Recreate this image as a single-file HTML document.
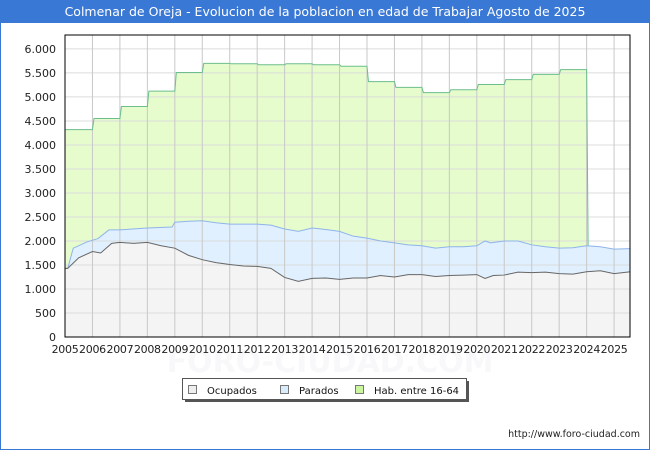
<!DOCTYPE html>
<html><head><meta charset="utf-8"><style>
body{margin:0;width:650px;height:450px;background:#fff;font-family:"DejaVu Sans","Liberation Sans",sans-serif;overflow:hidden;position:relative}
#title{position:absolute;left:0;top:0;width:650px;height:23px;background:#3a78d6;color:#fff;font-size:12.5px;line-height:23px;text-align:center}
#frame{position:absolute;left:0;top:23px;width:648px;height:426px;border:1px solid #3a78d6;border-top:none}
</style></head><body>
<div id="title">Colmenar de Oreja - Evolucion de la poblacion en edad de Trabajar Agosto de 2025</div>
<div id="frame"></div>
<svg id="chart" width="650" height="450" style="position:absolute;left:0;top:0"></svg>
<script>
const years=[2005,2006,2007,2008,2009,2010,2011,2012,2013,2014,2015,2016,2017,2018,2019,2020,2021,2022,2023,2024,2025];
const yTicks=[0,500,1000,1500,2000,2500,3000,3500,4000,4500,5000,5500,6000];
const yTickLabels=["0","500","1.000","1.500","2.000","2.500","3.000","3.500","4.000","4.500","5.000","5.500","6.000"];
const habYears=[2005,2006,2007,2008,2009,2010,2011,2012,2013,2014,2015,2016,2017,2018,2019,2020,2021,2022,2023];
const habValues=[4320,4550,4800,5120,5510,5700,5690,5670,5690,5670,5640,5320,5200,5090,5150,5260,5360,5470,5570];
const parT=[2005,2005.1,2005.3,2005.8,2006.2,2006.6,2007,2008,2008.9,2009,2009.5,2010,2010.5,2011,2012,2012.5,2013,2013.5,2014,2014.5,2015,2015.5,2016,2016.5,2017,2017.5,2018,2018.5,2019,2019.5,2020,2020.3,2020.5,2021,2021.5,2022,2022.5,2023,2023.5,2024,2024.5,2025,2025.6];
const parV=[1430,1430,1850,1980,2050,2230,2230,2270,2290,2390,2410,2420,2380,2350,2350,2330,2250,2200,2270,2240,2200,2100,2060,2000,1960,1920,1900,1850,1880,1880,1900,2000,1960,2000,2000,1920,1880,1850,1860,1900,1880,1830,1840];
const ocuT=[2005,2005.1,2005.5,2006,2006.3,2006.7,2007,2007.5,2008,2008.5,2009,2009.5,2010,2010.5,2011,2011.5,2012,2012.5,2013,2013.5,2014,2014.5,2015,2015.5,2016,2016.5,2017,2017.5,2018,2018.5,2019,2019.5,2020,2020.3,2020.6,2021,2021.5,2022,2022.5,2023,2023.5,2024,2024.5,2025,2025.6];
const ocuV=[1430,1430,1650,1780,1750,1950,1970,1950,1970,1900,1850,1700,1610,1550,1510,1480,1470,1430,1240,1160,1220,1230,1200,1230,1230,1280,1250,1300,1300,1260,1280,1290,1300,1220,1280,1290,1350,1340,1350,1320,1310,1360,1380,1320,1360];
const L=65,R=630,T=35,B=337,X0=2005,X1=2025.58,YMAX=6290;
const xs=t=>L+(t-X0)/(X1-X0)*(R-L);
const ys=v=>B-v/YMAX*(B-T);
const svg=document.getElementById('chart');const NS='http://www.w3.org/2000/svg';
function mk(tag,at,parent){const e=document.createElementNS(NS,tag);for(const k in at)e.setAttribute(k,at[k]);(parent||svg).appendChild(e);return e;}
let bg=mk('rect',{x:L,y:T,width:R-L,height:B-T,fill:'#fff'});


let wm=mk('text',{x:330,y:372,'text-anchor':'middle','font-size':30,fill:'#f8f8fb','font-weight':'bold'});wm.textContent='FORO-CIUDAD.COM';


let hp=[];habYears.forEach((y,i)=>{hp.push([xs(y)+(i?1.5:0),ys(habValues[i])]);hp.push([xs(y+1),ys(habValues[i])]);});
hp.push([xs(2024)+1.5,ys(parV[39])]);
let habArea='M'+xs(2005)+','+B+' '+hp.map(p=>'L'+p[0]+','+p[1]).join(' ')+' L'+(xs(2024)+1.5)+','+B+'Z';
let ha=mk('path',{d:habArea,fill:'#e6fccc'});


let parPts=parT.map((t,i)=>[xs(t),ys(parV[i])]);
let pa=mk('path',{d:'M'+xs(2005)+','+B+' '+parPts.map(p=>'L'+p[0]+','+p[1]).join(' ')+' L'+xs(parT[parT.length-1])+','+B+'Z',fill:'#e0f0fe'});


let ocuPts=ocuT.map((t,i)=>[xs(t),ys(ocuV[i])]);
let oa=mk('path',{d:'M'+xs(2005)+','+B+' '+ocuPts.map(p=>'L'+p[0]+','+p[1]).join(' ')+' L'+xs(ocuT[ocuT.length-1])+','+B+'Z',fill:'#f4f4f4'});


yTicks.forEach((v,i)=>{
 let g=mk('line',{x1:L,x2:R,y1:ys(v),y2:ys(v),stroke:'#dcdcdc','stroke-width':1});
 
 
 let t=mk('text',{x:L-9,y:ys(v)+4,'text-anchor':'end','font-size':11,fill:'#222'});t.textContent=yTickLabels[i];
 
 
});
years.forEach(y=>{
 let g=mk('line',{x1:xs(y),x2:xs(y),y1:T,y2:B,stroke:'#c8c8c8','stroke-width':1});
 
 
 let t=mk('text',{x:xs(y),y:B+16,'text-anchor':'middle','font-size':11,'letter-spacing':'-0.3',fill:'#222'});t.textContent=y;
 
 
});
let hl=mk('polyline',{points:hp.map(p=>p.join(',')).join(' '),fill:'none',stroke:'#6cbf8c','stroke-width':1});


let pl=mk('polyline',{points:parPts.map(p=>p.join(',')).join(' '),fill:'none',stroke:'#8fb4ea','stroke-width':1});


let ol=mk('polyline',{points:ocuPts.map(p=>p.join(',')).join(' '),fill:'none',stroke:'#666','stroke-width':1});


let fr=mk('rect',{x:L,y:T,width:R-L,height:B-T,fill:'none',stroke:'#000','stroke-width':1});


let lg=mk('g',{});


mk('rect',{x:185,y:381,width:284,height:21,fill:'#555'},lg);
mk('rect',{x:182.5,y:378.5,width:284,height:21,fill:'#fff',stroke:'#555'},lg);
[['Ocupados','#eeeeee',188,'legend-ocupados'],['Parados','#d8ecfc',280,'legend-parados'],['Hab. entre 16-64','#ccf5a0',355,'legend-hab']].forEach(a=>{
 let g=mk('g',{},lg);
 
 
 mk('rect',{x:a[2]+0.5,y:385.5,width:8,height:8,fill:a[1],stroke:'#777'},g);
 let t=mk('text',{x:a[2]+19,y:394,'font-size':10,fill:'#111'},g);t.textContent=a[0];
});
let u=mk('text',{x:640,y:437,'text-anchor':'end','font-size':9.5,fill:'#222'});u.textContent='http://www.foro-ciudad.com';


</script>
</body></html>
